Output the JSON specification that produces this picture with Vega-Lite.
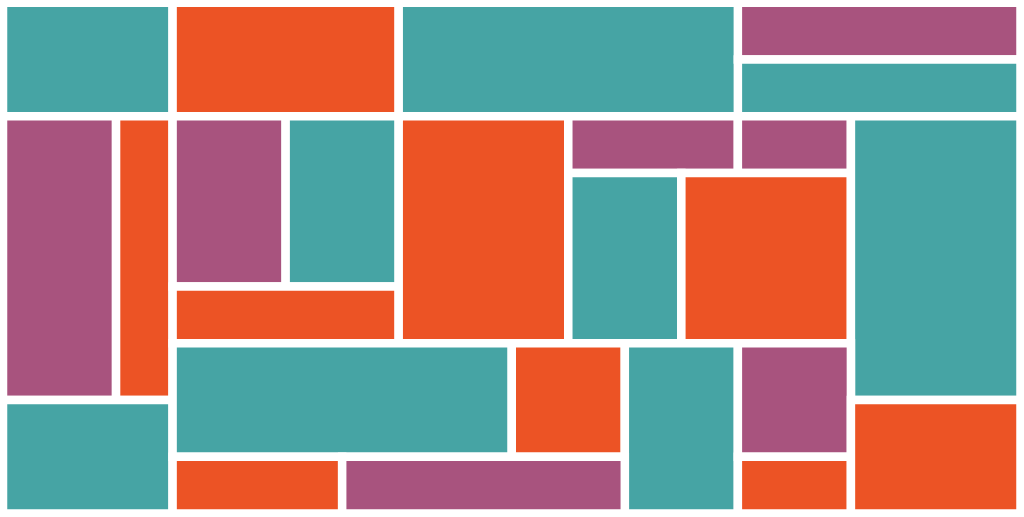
{
  "$schema": "https://vega.github.io/schema/vega-lite/v6.json",
  "width": 1017.5,
  "height": 510.75,
  "autosize": {"type": "none"},
  "padding": {"left": 3, "right": 3.5, "top": 2.75, "bottom": 3.5},
  "background": "white",
  "config": {"view": {"stroke": null}},
  "data": {
    "values": [
      {"x0": 0, "x1": 3, "y0": 0, "y1": 2, "c": "teal"},
      {"x0": 3, "x1": 7, "y0": 0, "y1": 2, "c": "orange"},
      {"x0": 7, "x1": 13.07, "y0": 0, "y1": 2, "c": "teal"},
      {"x0": 13, "x1": 18, "y0": 0, "y1": 1, "c": "purple"},
      {"x0": 13, "x1": 18, "y0": 1, "y1": 2, "c": "teal"},
      {"x0": 0, "x1": 2, "y0": 2, "y1": 7, "c": "purple"},
      {"x0": 2, "x1": 3, "y0": 2, "y1": 7, "c": "orange"},
      {"x0": 0, "x1": 3, "y0": 7, "y1": 9, "c": "teal"},
      {"x0": 3, "x1": 5, "y0": 2, "y1": 5, "c": "purple"},
      {"x0": 5, "x1": 7, "y0": 2, "y1": 5, "c": "teal"},
      {"x0": 3, "x1": 7, "y0": 5, "y1": 6, "c": "orange"},
      {"x0": 7, "x1": 10, "y0": 2, "y1": 6, "c": "orange"},
      {"x0": 10, "x1": 13, "y0": 2, "y1": 3, "c": "purple"},
      {"x0": 13, "x1": 15, "y0": 2, "y1": 3, "c": "purple"},
      {"x0": 10, "x1": 12, "y0": 3, "y1": 6, "c": "teal"},
      {"x0": 12, "x1": 15, "y0": 3, "y1": 6, "c": "orange"},
      {"x0": 15, "x1": 18, "y0": 2, "y1": 7, "c": "teal"},
      {"x0": 3, "x1": 9, "y0": 6, "y1": 8, "c": "teal"},
      {"x0": 9, "x1": 11, "y0": 6, "y1": 8, "c": "orange"},
      {"x0": 11, "x1": 13, "y0": 6, "y1": 9, "c": "teal"},
      {"x0": 13, "x1": 15, "y0": 6, "y1": 8, "c": "purple"},
      {"x0": 3, "x1": 6, "y0": 8, "y1": 9, "c": "orange"},
      {"x0": 6, "x1": 11, "y0": 8, "y1": 9, "c": "purple"},
      {"x0": 13, "x1": 15, "y0": 8, "y1": 9, "c": "orange"},
      {"x0": 15, "x1": 18, "y0": 7, "y1": 9, "c": "orange"}
    ]
  },
  "mark": {"type": "rect", "stroke": "white", "strokeWidth": 8.5, "opacity": 1},
  "encoding": {
    "x": {"field": "x0", "type": "quantitative", "scale": {"domain": [0, 18], "nice": false, "zero": false}, "axis": null},
    "x2": {"field": "x1"},
    "y": {"field": "y0", "type": "quantitative", "scale": {"domain": [0, 9], "nice": false, "zero": false, "reverse": true}, "axis": null},
    "y2": {"field": "y1"},
    "color": {"field": "c", "type": "nominal", "scale": {"domain": ["teal", "orange", "purple"], "range": ["#46A4A4", "#EC5325", "#A8537E"]}, "legend": null}
  }
}
